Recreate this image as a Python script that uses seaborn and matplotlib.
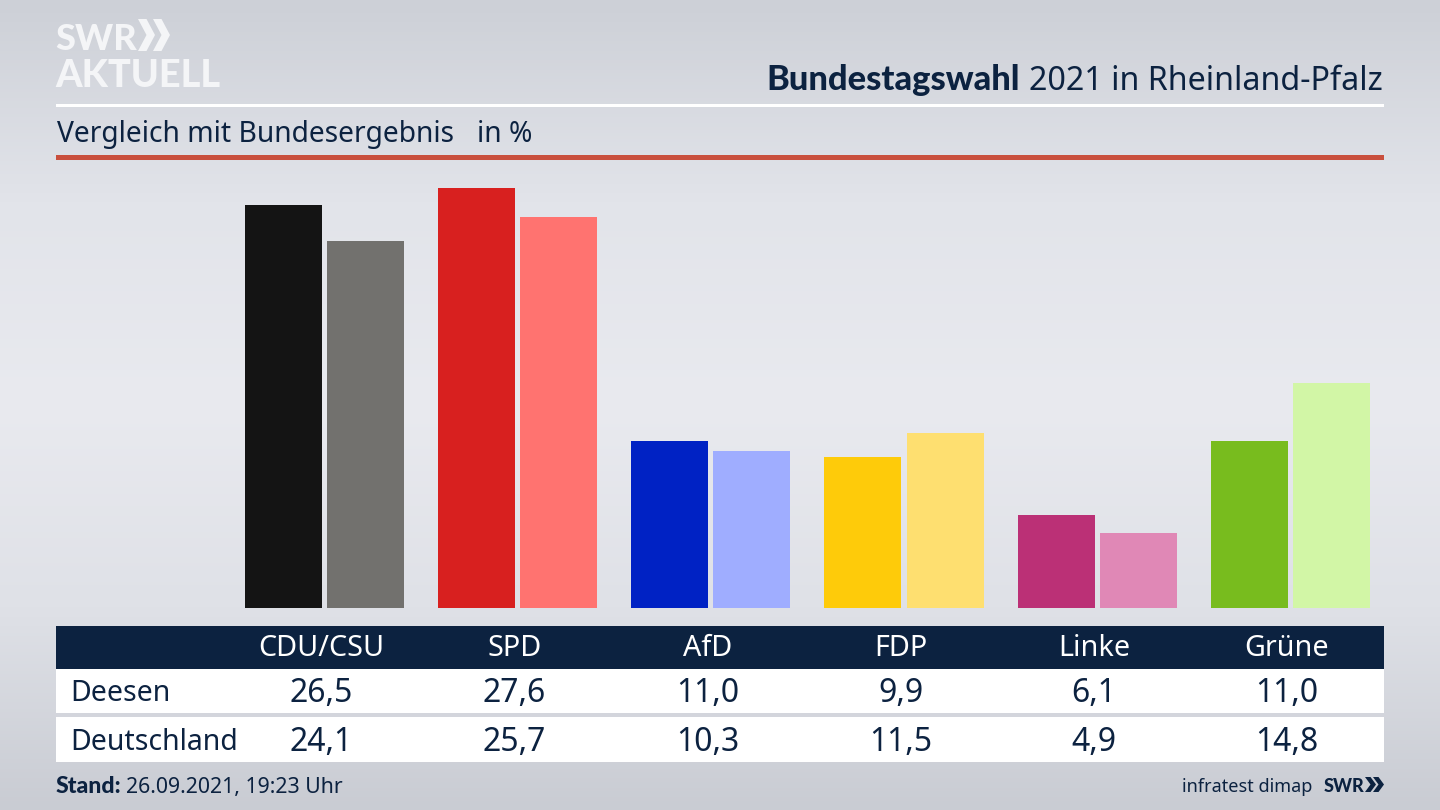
import numpy as np
import pandas as pd
import matplotlib
matplotlib.use("Agg")
import matplotlib.pyplot as plt
import seaborn as sns
from matplotlib.colors import LinearSegmentedColormap
from matplotlib.patches import Polygon, Rectangle

# ── Data ────────────────────────────────────────────────────────────────────
parties = ["CDU/CSU", "SPD", "AfD", "FDP", "Linke", "Grüne"]
deesen = [26.5, 27.6, 11.0, 9.9, 6.1, 11.0]
deutschland = [24.1, 25.7, 10.3, 11.5, 4.9, 14.8]
row_names = ["Deesen", "Deutschland"]

colors_deesen = ["#141414", "#d8201f", "#0022c4", "#fecb0a", "#bb3076", "#78bc1e"]
colors_deutschland = ["#72716e", "#ff7370", "#9fadff", "#fedf70", "#e088b6", "#d2f6a6"]

NAVY = "#0c2240"
LOGO = "#f4f5f7"
W, H = 1440, 810
FONT = "Noto Sans"
HEAVY = "Lato"

sns.set_theme(style="white")
plt.rcParams["font.family"] = [FONT, "DejaVu Sans"]

df = pd.DataFrame({"partei": parties, "Deesen": deesen, "Deutschland": deutschland})
long_df = df.melt(id_vars="partei", var_name="gebiet", value_name="prozent")

fig = plt.figure(figsize=(W / 100, H / 100), dpi=100)

# ── Background gradient ─────────────────────────────────────────────────────
bg = fig.add_axes([0, 0, 1, 1], zorder=0)
bg_cmap = LinearSegmentedColormap.from_list(
    "bg", ["#cdd0d7", "#e2e4ea", "#e9eaef", "#dfe1e7", "#c9ccd3"])
bg.imshow(np.linspace(0, 1, 256).reshape(-1, 1), cmap=bg_cmap, aspect="auto",
          extent=[0, W, H, 0])
bg.set_xlim(0, W)
bg.set_ylim(H, 0)
bg.axis("off")

# ── Bars ────────────────────────────────────────────────────────────────────
# baseline at y=608px, 15.22px per percentage point, groups 193.2px apart
ax_h = 440
ax = fig.add_axes([227.8 / W, (H - 608) / H, 1159.2 / W, ax_h / H], zorder=1)
ax.patch.set_alpha(0)
sns.barplot(data=long_df, x="partei", y="prozent", hue="gebiet", ax=ax,
            width=0.849, gap=0.061, legend=False, saturation=1)
for container, cols in zip(ax.containers, [colors_deesen, colors_deutschland]):
    for bar, c in zip(container, cols):
        bar.set_facecolor(c)
        bar.set_edgecolor("none")
ax.set_xlim(-0.5, 5.5)
ax.set_ylim(0, ax_h / 15.22)
ax.axis("off")

# ── Overlay in pixel coordinates ────────────────────────────────────────────
ov = fig.add_axes([0, 0, 1, 1], zorder=2)
ov.set_xlim(0, W)
ov.set_ylim(H, 0)
ov.axis("off")
ov.patch.set_alpha(0)

# header rules
ov.add_patch(Rectangle((56, 104), 1328, 3, color="white", lw=0))
ov.add_patch(Rectangle((56, 155), 1328, 5, color="#c94f3d", lw=0))

# table
ov.add_patch(Rectangle((56, 626), 1328, 42.5, color=NAVY, lw=0))
ov.add_patch(Rectangle((56, 668.5), 1328, 44.5, color="white", lw=0))
ov.add_patch(Rectangle((56, 717), 1328, 45, color="white", lw=0))

centers = [321.5 + i * 193.1 for i in range(len(parties))]
fmt = lambda v: f"{v:.1f}".replace(".", ",")
for cx, name, a, b in zip(centers, parties, deesen, deutschland):
    ov.text(cx, 656.5, name, color="white", fontsize=20.7, ha="center", va="baseline")
    ov.text(cx, 702, fmt(a), color=NAVY, fontsize=23, ha="center", va="baseline")
    ov.text(cx, 751, fmt(b), color=NAVY, fontsize=23, ha="center", va="baseline")
ov.text(70, 701, row_names[0], color=NAVY, fontsize=20.5, ha="left", va="baseline")
ov.text(70, 750, row_names[1], color=NAVY, fontsize=20.5, ha="left", va="baseline")

# title, right aligned: regular part first, bold part hooked onto its left edge
renderer = fig.canvas.get_renderer()
t2 = ov.text(1383, 90, "2021 in Rheinland-Pfalz", color=NAVY, fontsize=23.2,
             ha="right", va="baseline")
x_left = ov.transData.inverted().transform(t2.get_window_extent(renderer).get_points())[0, 0]
ov.text(x_left - 9, 90, "Bundestagswahl", color=NAVY, fontsize=24.8, weight="black",
        family=HEAVY, ha="right", va="baseline")

ov.text(57, 142, "Vergleich mit Bundesergebnis", color=NAVY, fontsize=20.3,
        ha="left", va="baseline")
ov.text(477, 142, "in %", color=NAVY, fontsize=20.3, ha="left", va="baseline")

# footer
t3 = ov.text(56, 793, "Stand:", color=NAVY, fontsize=16.7, weight="black", family=HEAVY,
             ha="left", va="baseline")
x_right = ov.transData.inverted().transform(t3.get_window_extent(renderer).get_points())[1, 0]
ov.text(x_right + 4, 793, "26.09.2021, 19:23 Uhr", color=NAVY, fontsize=15.3,
        ha="left", va="baseline")
ov.text(1312, 792, "infratest dimap", color=NAVY, fontsize=13, ha="right", va="baseline")
ov.text(1323.5, 792, "SWR", color=NAVY, fontsize=13, weight="black", family=HEAVY,
        ha="left", va="baseline")


def chevrons(x0, y0, h, w, step, color):
    # two small arrow heads next to the SWR lettering
    for dx in (0, step):
        ov.add_patch(Polygon(
            [(x0 + dx, y0), (x0 + dx + w * 0.5, y0), (x0 + dx + w, y0 + h / 2),
             (x0 + dx + w * 0.5, y0 + h), (x0 + dx, y0 + h), (x0 + dx + w * 0.5, y0 + h / 2)],
            closed=True, color=color, lw=0))


chevrons(1365, 777, 15, 11, 8, NAVY)

# logo
ov.text(55, 50, "SWR", color=LOGO, fontsize=26, weight="black", family=HEAVY,
        ha="left", va="baseline")
ov.text(55, 87, "AKTUELL", color=LOGO, fontsize=27.3, weight="black", family=HEAVY,
        ha="left", va="baseline")
chevrons(138, 19, 32, 17, 15, LOGO)

fig.savefig("out.png", dpi=100)
